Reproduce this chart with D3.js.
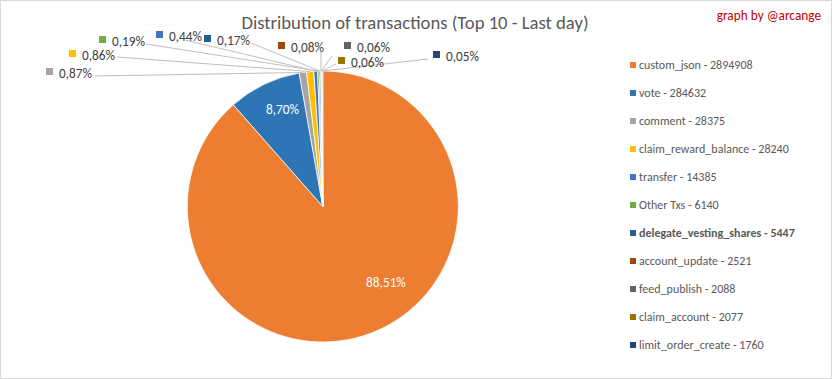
<!DOCTYPE html>
<html><head><meta charset="utf-8">
<script src="https://cdn.jsdelivr.net/npm/d3@7"></script>
<style>body{margin:0;background:#fff}svg{display:block}text{font-family:Carlito,Calibri,"Open Sans",sans-serif}</style>
</head><body><svg id="c" width="832" height="379"></svg>
<script>
const categories = ["custom_json","vote","comment","claim_reward_balance","transfer","Other Txs","delegate_vesting_shares","account_update","feed_publish","claim_account","limit_order_create"];
const values = [2894908,284632,28375,28240,14385,6140,5447,2521,2088,2077,1760];
const percentLabels = ["88,51%","8,70%","0,87%","0,86%","0,44%","0,19%","0,17%","0,08%","0,06%","0,06%","0,05%"];
const colors = ["#ED7D31","#2E75B6","#A5A5A5","#FFC000","#4472C4","#70AD47","#255E91","#9E480E","#636363","#997300","#264478"];
const boldLegend = ["delegate_vesting_shares"];
const title = "Distribution of transactions (Top 10 - Last day)";
const credit = "graph by @arcange";

// label layout (annotation placement): null = inside label
// [squareX, textCenterY, leaderStartX, leaderStartY]
const labelLayout = [null, null,
  [46,73,95,76],[69,55,117,57],[156,36,185,40],[99,41,146,44],[204,40,251,43],
  [278,47,321,52],[344,47,332,56],[338,62,336,64],[433,56,428,59]];

const svg = d3.select("#c");
svg.append("rect").attr("x",0.5).attr("y",0.5).attr("width",831).attr("height",378).attr("fill","#fff").attr("stroke","#D9D9D9");

const cx = 322.8, cy = 206.5, R = 135.5;
const g = svg.append("g").attr("transform",`translate(${cx},${cy})`);
const pie = d3.pie().sort(null).value(d=>d).startAngle(0).endAngle(2*Math.PI);
const arcs = pie(values);
const arc = d3.arc().innerRadius(0).outerRadius(R);
g.selectAll("path.s").data(arcs).join("path").attr("class","s")
  .attr("d",arc).attr("fill",(d,i)=>colors[i]).attr("stroke","#fff").attr("stroke-width",0.75);

// inside labels (Excel-like placement: angular shift and radius fraction)
const insideShift = [0.33, -0.056];
const insideRadius = [0.732, 0.778];
arcs.forEach((a,i)=>{
  if(labelLayout[i]!==null) return;
  const ang = (a.startAngle+a.endAngle)/2 - insideShift[i];
  const rr = R*insideRadius[i];
  g.append("text").attr("x",rr*Math.sin(ang)).attr("y",-rr*Math.cos(ang))
    .attr("text-anchor","middle").attr("dominant-baseline","central")
    .attr("fill","#fff").attr("font-size",13.3).text(percentLabels[i]);
});

// outside labels with leader lines
arcs.forEach((a,i)=>{
  const L = labelLayout[i]; if(!L) return;
  const ang = (a.startAngle+a.endAngle)/2;
  const px = cx + R*Math.sin(ang), py = cy - R*Math.cos(ang);
  svg.append("line").attr("x1",L[2]).attr("y1",L[3]).attr("x2",px).attr("y2",py)
    .attr("stroke","#BFBFBF").attr("stroke-width",1);
});
arcs.forEach((a,i)=>{
  const L = labelLayout[i]; if(!L) return;
  svg.append("rect").attr("x",L[0]).attr("y",L[1]-5).attr("width",7).attr("height",7).attr("fill",colors[i]);
  svg.append("text").attr("x",L[0]+13).attr("y",L[1]).attr("dominant-baseline","central")
    .attr("fill","#404040").attr("font-size",13.3).text(percentLabels[i]);
});

svg.append("text").attr("x",415).attr("y",22).attr("text-anchor","middle").attr("dominant-baseline","central")
  .attr("fill","#595959").attr("font-size",18.67).text(title);
svg.append("text").attr("x",821).attr("y",15).attr("text-anchor","end").attr("dominant-baseline","central")
  .attr("fill","#C00000").attr("font-size",13.3).text(credit);

const ly = d3.scalePoint().domain(categories).range([65,345]);
const leg = svg.append("g");
categories.forEach((c,i)=>{
  leg.append("rect").attr("x",630).attr("y",ly(c)-3).attr("width",6).attr("height",6).attr("fill",colors[i]);
  leg.append("text").attr("x",639).attr("y",ly(c)).attr("dominant-baseline","central")
    .attr("fill","#595959").attr("font-size",12)
    .attr("font-weight",boldLegend.includes(c)?"bold":"normal")
    .text(c+" - "+values[i]);
});
</script></body></html>
